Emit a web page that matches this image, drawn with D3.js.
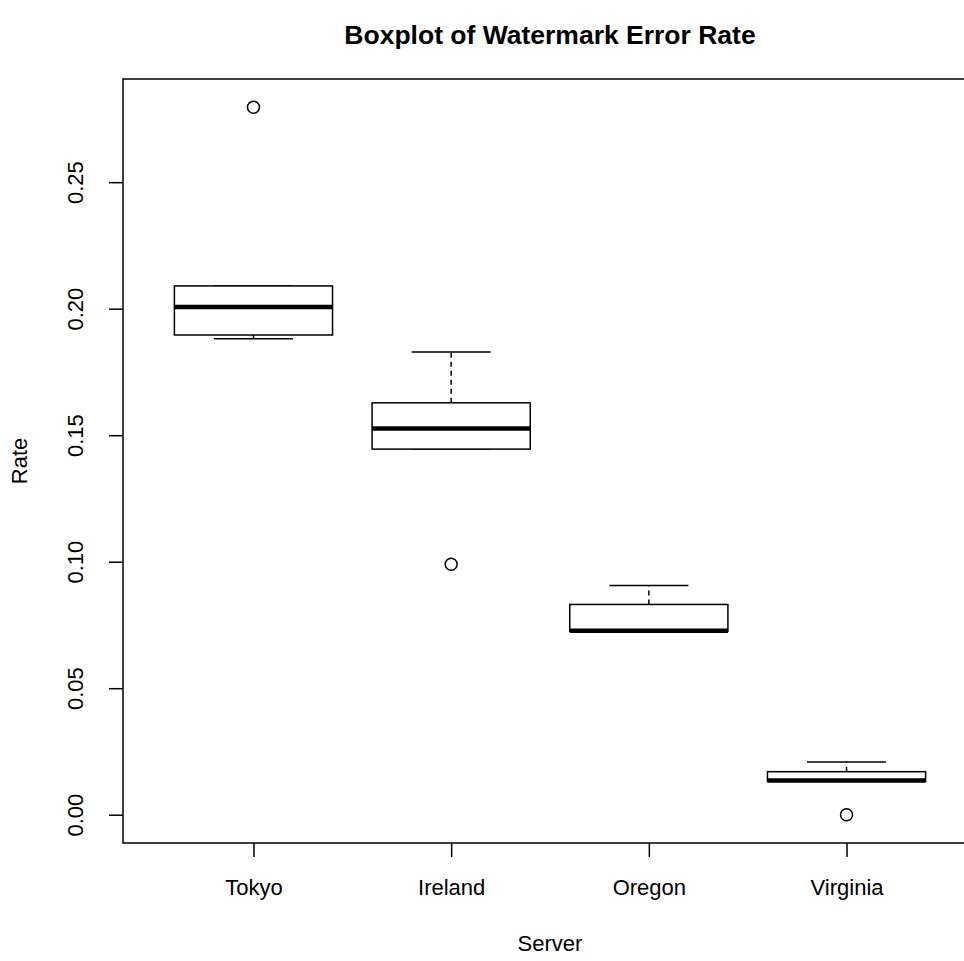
<!DOCTYPE html>
<html>
<head>
<meta charset="utf-8">
<script src="https://cdn.jsdelivr.net/npm/d3@7"></script>
<style>
  html, body { margin: 0; padding: 0; background: #fff; }
  svg { display: block; font-family: "Liberation Sans", Arial, sans-serif; }
</style>
</head>
<body>
<svg id="chart" width="964" height="961"></svg>
<script>
// ---- Data ----
const categories = ["Tokyo", "Ireland", "Oregon", "Virginia"];
const whiskerLow  = [0.1881, 0.1445, 0.0725, 0.0132];
const q1          = [0.1896, 0.1445, 0.0725, 0.0132];
const medians     = [0.2007, 0.1526, 0.0727, 0.01355];
const q3          = [0.2090, 0.1628, 0.0831, 0.0170];
const whiskerHigh = [0.2090, 0.1829, 0.0906, 0.0208];
const outliers    = [[0.2796], [0.0990], [], [0.0000]];
const yTicks      = [0.00, 0.05, 0.10, 0.15, 0.20, 0.25];
const chartTitle = "Boxplot of Watermark Error Rate";
const xTitle = "Server";
const yTitle = "Rate";

(function () {
// ---- Layout ----
const svg = d3.select("#chart");
const pl = 123, pr = 977, pt = 79, pb = 843;

const allVals = whiskerLow.concat(whiskerHigh, outliers.flat());
const yMin = d3.min(allVals), yMax = d3.max(allVals);
const pad = (yMax - yMin) * 0.04;
const y = d3.scaleLinear().domain([yMin - pad, yMax + pad]).range([pb, pt]);
const n = categories.length;
const xPad = n * 0.04;
const x = d3.scaleLinear().domain([0.5 - xPad, n + 0.5 + xPad]).range([pl, pr]);

const boxW = 0.8, capW = 0.4;
const fontAxis = 22;

// frame
svg.append("rect")
  .attr("x", pl).attr("y", pt)
  .attr("width", pr - pl).attr("height", pb - pt)
  .attr("fill", "none").attr("stroke", "#000").attr("stroke-width", 1.5);

// y axis
const yAxis = d3.axisLeft(y).tickValues(yTicks).tickFormat(d3.format(".2f")).tickSize(14).tickPadding(0);
const gy = svg.append("g").attr("transform", `translate(${pl},0)`).call(yAxis);
gy.select(".domain").remove();
gy.selectAll(".tick line").attr("stroke", "#000").attr("stroke-width", 1.5);
gy.selectAll(".tick text")
  .attr("x", 0).attr("dy", null).attr("y", 0)
  .attr("transform", "translate(-40,0) rotate(-90)")
  .attr("text-anchor", "middle")
  .style("font-size", fontAxis + "px")
  .style("font-family", "Liberation Sans, Arial, sans-serif")
  .attr("fill", "#000");

// x axis
const xAxis = d3.axisBottom(x).tickValues(d3.range(1, n + 1)).tickFormat(i => categories[i - 1]).tickSize(14).tickPadding(22);
const gx = svg.append("g").attr("transform", `translate(0,${pb})`).call(xAxis);
gx.select(".domain").remove();
gx.selectAll(".tick line").attr("stroke", "#000").attr("stroke-width", 1.5);
gx.selectAll(".tick text")
  .style("font-size", fontAxis + "px")
  .style("font-family", "Liberation Sans, Arial, sans-serif")
  .attr("fill", "#000");

// boxes
const boxes = svg.append("g");
categories.forEach((c, i) => {
  const cx = i + 1;
  const g = boxes.append("g");
  g.append("line")
    .attr("x1", x(cx)).attr("x2", x(cx))
    .attr("y1", y(q3[i])).attr("y2", y(whiskerHigh[i]))
    .attr("stroke", "#000").attr("stroke-width", 1.5).attr("stroke-dasharray", "5,4");
  g.append("line")
    .attr("x1", x(cx)).attr("x2", x(cx))
    .attr("y1", y(q1[i])).attr("y2", y(whiskerLow[i]))
    .attr("stroke", "#000").attr("stroke-width", 1.5).attr("stroke-dasharray", "5,4");
  [whiskerHigh[i], whiskerLow[i]].forEach(v => {
    g.append("line")
      .attr("x1", x(cx - capW / 2)).attr("x2", x(cx + capW / 2))
      .attr("y1", y(v)).attr("y2", y(v))
      .attr("stroke", "#000").attr("stroke-width", 1.5);
  });
  g.append("rect")
    .attr("x", x(cx - boxW / 2)).attr("width", x(cx + boxW / 2) - x(cx - boxW / 2))
    .attr("y", y(q3[i])).attr("height", Math.max(0, y(q1[i]) - y(q3[i])))
    .attr("fill", "#fff").attr("stroke", "#000").attr("stroke-width", 1.5);
  g.append("line")
    .attr("x1", x(cx - boxW / 2)).attr("x2", x(cx + boxW / 2))
    .attr("y1", y(medians[i])).attr("y2", y(medians[i]))
    .attr("stroke", "#000").attr("stroke-width", 4.5);
  g.selectAll("circle").data(outliers[i]).enter().append("circle")
    .attr("cx", x(cx)).attr("cy", d => y(d)).attr("r", 6)
    .attr("fill", "none").attr("stroke", "#000").attr("stroke-width", 1.5);
});

// titles
svg.append("text")
  .attr("x", (pl + pr) / 2).attr("y", 44)
  .attr("text-anchor", "middle")
  .style("font-size", "26.5px").style("font-weight", "bold")
  .text(chartTitle);

svg.append("text")
  .attr("x", (pl + pr) / 2).attr("y", 951)
  .attr("text-anchor", "middle")
  .style("font-size", fontAxis + "px")
  .text(xTitle);

svg.append("text")
  .attr("transform", `translate(27,${(pt + pb) / 2}) rotate(-90)`)
  .attr("text-anchor", "middle")
  .style("font-size", fontAxis + "px")
  .text(yTitle);
})();
</script>
</body>
</html>
